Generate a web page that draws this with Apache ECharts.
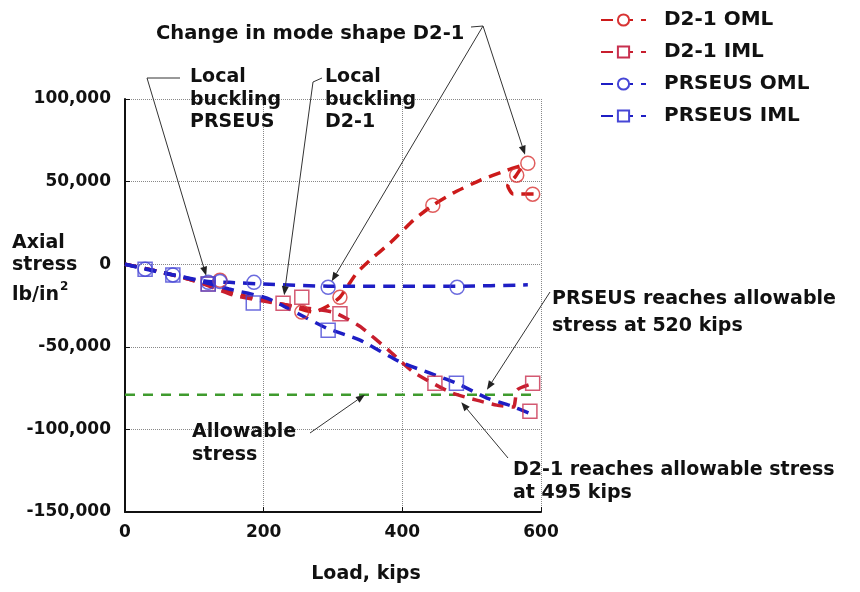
<!DOCTYPE html>
<html>
<head>
<meta charset="utf-8">
<script src="https://cdn.jsdelivr.net/npm/echarts@6/dist/echarts.min.js"></script>
<style>
  html, body { margin: 0; background: #fff; }
  #main { width: 860px; height: 592px; }
</style>
</head>
<body>
<div id="main"></div>
<script>
// load in kips, axial stress in lb/in^2
var seriesNames = ['D2-1 OML', 'D2-1 IML', 'PRSEUS OML', 'PRSEUS IML'];

// dashed fit curves
var d21OmlCurve = [[0, 0], [50, -4500], [100, -10000], [156, -17500], [202, -22000], [240, -25500],
  [272, -29000], [292, -25500], [310, -20000], [334, -5400], [358, 4200], [382, 12700], [416, 26600],
  [444, 35700], [473, 43000], [512, 50800], [551, 56900], [574, 60000], [563, 53000], [552, 47500],
  [560, 42500], [592, 42500]];
var d21ImlCurve = [[0, 0], [50, -4500], [100, -10000], [156, -18700], [202, -22500], [252, -26000],
  [300, -29000], [320, -33000], [340, -38000], [380, -52000], [415, -65000], [469, -77500],
  [507, -82300], [536, -85300], [560, -86500], [566, -76000], [590, -72000]];
var prseusOmlCurve = [[0, 0], [29, -3000], [69, -6500], [120, -10500], [151, -11000], [200, -12000],
  [293, -13300], [400, -13300], [479, -13300], [581, -12500]];
var prseusImlCurve = [[0, 0], [50, -4500], [100, -9500], [150, -15000], [205, -20600], [250, -30000],
  [291, -38700], [339, -46000], [396, -59000], [440, -66000], [478, -72000], [522, -81000],
  [555, -85500], [582, -90000]];

// measured points (markers)
var d21OmlPoints = [[137, -9700], [255, -29000], [310, -20000], [444, 35700], [565, 53900],
  [581, 61100], [588, 42400]];
var d21ImlPoints = [[120, -12000], [228, -23600], [255, -20000], [310, -30000], [447, -72000],
  [588, -72000], [584, -89000]];
var prseusOmlPoints = [[29, -3000], [69, -6500], [120, -11000], [137, -10500], [186, -11000],
  [293, -14000], [479, -14000]];
var prseusImlPoints = [[29, -3000], [69, -6500], [120, -12000], [185, -23500], [293, -40000],
  [478, -72000]];

var allowableStress = -79000;
var allowableLoads = [0, 590];

var lineColors = ['#cc1a1a', '#c81e2e', '#1e1ec4', '#1e1ec4'];
var markerColors = ['#d83434', '#c8304f', '#4646d6', '#4646d6'];
var symbols = ['circle', 'rect', 'circle', 'rect'];
var curves = [d21OmlCurve, d21ImlCurve, prseusOmlCurve, prseusImlCurve];
var points = [d21OmlPoints, d21ImlPoints, prseusOmlPoints, prseusImlPoints];

var FONT = '"DejaVu Sans", "Liberation Sans", sans-serif';

var myChart = echarts.init(document.getElementById('main'));

var series = [];
seriesNames.forEach(function (name, i) {
  series.push({
    name: name,
    type: 'line',
    data: curves[i],
    smooth: 0.2,
    symbol: 'empty' + (symbols[i] === 'rect' ? 'Rect' : 'Circle'),
    showSymbol: false,
    itemStyle: { color: markerColors[i] },
    lineStyle: { color: lineColors[i], width: 3.5, type: [12, 8] },
    z: 2
  });
});
seriesNames.forEach(function (name, i) {
  series.push({
    name: name,
    type: 'scatter',
    data: points[i],
    symbol: symbols[i],
    symbolSize: 14,
    itemStyle: { color: 'rgba(0,0,0,0)', borderColor: markerColors[i], borderWidth: 1.5 },
    z: 3
  });
});
series.push({
  name: 'Allowable stress',
  type: 'line',
  data: allowableLoads.map(function (x) { return [x, allowableStress]; }),
  symbol: 'none',
  lineStyle: { color: '#3f9b2e', width: 2.5, type: [10, 8] },
  z: 1
});

myChart.setOption({
  animation: false,
  grid: { left: 125, right: 319, top: 99, bottom: 80 },
  legend: {
    orient: 'vertical',
    left: 595,
    top: 5,
    itemWidth: 45,
    itemHeight: 14,
    itemGap: 12,
    data: seriesNames,
    textStyle: { fontFamily: FONT, fontWeight: 'bold', fontSize: 20, color: '#111', padding: [0, 0, 0, 13] }
  },
  xAxis: {
    type: 'value',
    min: 0,
    max: 600,
    interval: 200,
    name: 'Load, kips',
    nameLocation: 'middle',
    nameGap: 53,
    nameTextStyle: { fontFamily: FONT, fontWeight: 'bold', fontSize: 19, color: '#111', padding: [0, 0, 0, 66] },
    axisLine: { onZero: false, lineStyle: { color: '#111', width: 2 } },
    axisTick: { inside: true, length: 5, lineStyle: { color: '#111' } },
    axisLabel: { fontFamily: FONT, fontWeight: 'bold', fontSize: 17, color: '#111', margin: 12 },
    splitLine: { lineStyle: { color: '#888', type: 'dotted', width: 1 } }
  },
  yAxis: {
    type: 'value',
    min: -150000,
    max: 100000,
    interval: 50000,
    axisLine: { onZero: false, lineStyle: { color: '#111', width: 2 } },
    axisTick: { inside: true, length: 5, lineStyle: { color: '#111' } },
    axisLabel: {
      fontFamily: FONT, fontWeight: 'bold', fontSize: 17, color: '#111', margin: 14,
      formatter: function (v) { return v.toLocaleString('en-US'); }
    },
    splitLine: { lineStyle: { color: '#888', type: 'dotted', width: 1 } }
  },
  series: series
});

// annotations: text in pixels, arrow tips at data positions
function px(p) { return myChart.convertToPixel({ gridIndex: 0 }, p); }

function label(text, x, y, size, lh) {
  return {
    type: 'text', z: 10,
    style: {
      text: text, x: x, y: y, fill: '#111',
      font: 'bold ' + (size || 19) + 'px ' + FONT,
      lineHeight: lh || 23, textVerticalAlign: 'top'
    }
  };
}

function arrow(pts, target, shorten) {
  var t = px(target);
  var last = pts[pts.length - 1];
  var dx = t[0] - last[0], dy = t[1] - last[1];
  var len = Math.sqrt(dx * dx + dy * dy);
  var ux = dx / len, uy = dy / len;
  var tip = [t[0] - ux * (shorten || 0), t[1] - uy * (shorten || 0)];
  var hl = 9, hw = 3.5;
  var base = [tip[0] - ux * hl, tip[1] - uy * hl];
  var head = [tip, [base[0] - uy * hw, base[1] + ux * hw], [base[0] + uy * hw, base[1] - ux * hw]];
  return [
    { type: 'polyline', z: 10, shape: { points: pts.concat([base]) }, style: { stroke: '#333', lineWidth: 1, fill: null } },
    { type: 'polygon', z: 10, shape: { points: head }, style: { fill: '#222' } }
  ];
}

var graphics = [
  label('Change in mode shape D2-1', 156, 22, 19.5),
  label('Local\nbuckling\nPRSEUS', 190, 66, 19, 22.5),
  label('Local\nbuckling\nD2-1', 325, 66, 19, 22.5),
  label('Allowable\nstress', 192, 421),
  label('PRSEUS reaches allowable\nstress at 520 kips', 552, 286, 19, 27),
  label('D2-1 reaches allowable stress\nat 495 kips', 513, 459),
  label('Axial', 12, 232),
  label('stress', 12, 254),
  label('lb/in', 12, 284),
  { type: 'text', z: 10, style: { text: '2', x: 60, y: 281, fill: '#111', font: 'bold 12px ' + FONT, textVerticalAlign: 'top' } }
];
graphics = graphics
  .concat(arrow([[471, 27], [483, 26]], [293, -14000], 7))
  .concat(arrow([[483, 26]], [581, 61100], 9))
  .concat(arrow([[180, 78], [147, 78]], [120, -11000], 7))
  .concat(arrow([[322, 78], [313, 82]], [228, -23600], 8))
  .concat(arrow([[310, 433]], [346, allowableStress], 0))
  .concat(arrow([[550, 292]], [522, -76000], 0))
  .concat(arrow([[508, 458]], [485, -83500], 0));

myChart.setOption({ graphic: graphics });
</script>
</body>
</html>
